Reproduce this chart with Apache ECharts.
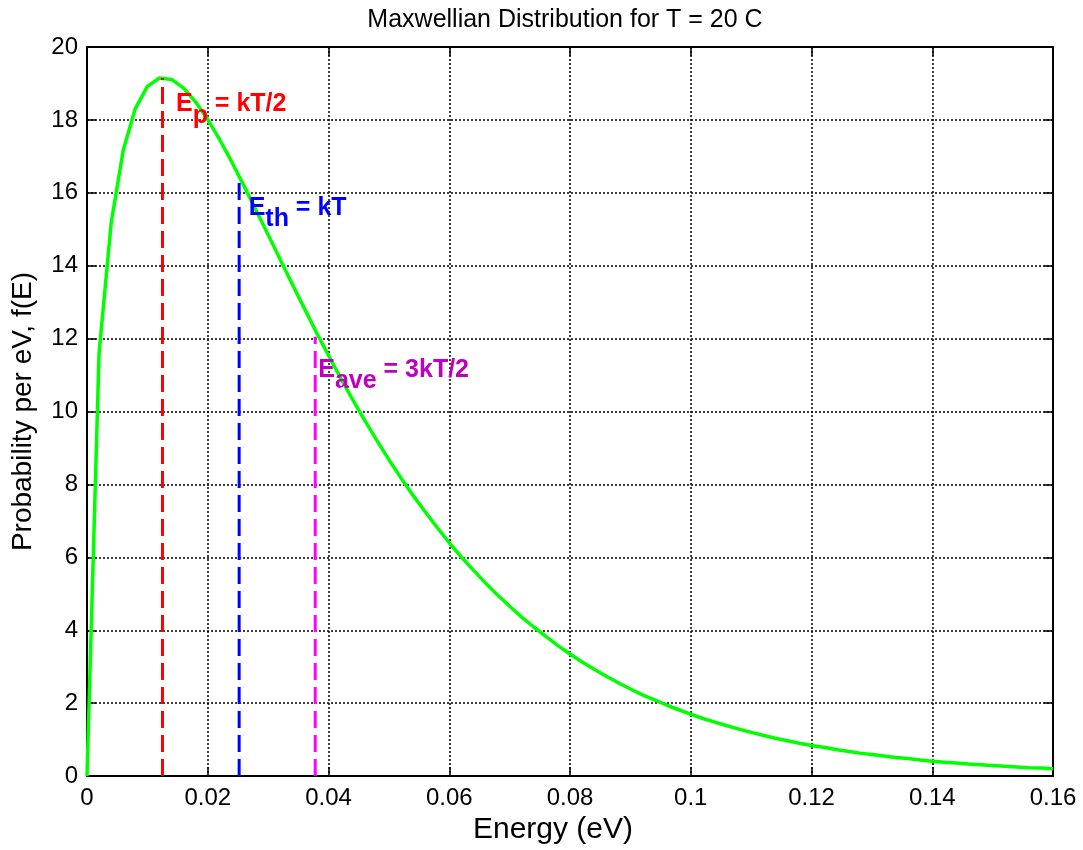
<!DOCTYPE html>
<html>
<head>
<meta charset="utf-8">
<script src="https://cdn.jsdelivr.net/npm/echarts@6/dist/echarts.min.js"></script>
<style>
html,body{margin:0;padding:0;background:#fff;}
#chart{width:1083px;height:850px;}
</style>
</head>
<body>
<div id="chart"></div>
<script>
// Energy samples (eV)
const energy = [0,0.002,0.004,0.006,0.008,0.010,0.012,0.014,0.016,0.018,
  0.020,0.022,0.024,0.026,0.028,0.030,0.032,0.034,0.036,0.038,
  0.040,0.042,0.044,0.046,0.048,0.050,0.052,0.054,0.056,0.058,
  0.060,0.062,0.064,0.066,0.068,0.070,0.072,0.074,0.076,0.078,
  0.080,0.082,0.084,0.086,0.088,0.090,0.092,0.094,0.096,0.098,
  0.100,0.102,0.104,0.106,0.108,0.110,0.112,0.114,0.116,0.118,
  0.120,0.122,0.124,0.126,0.128,0.130,0.132,0.134,0.136,0.138,
  0.140,0.142,0.144,0.146,0.148,0.150,0.152,0.154,0.156,0.158,0.160];
// Probability per eV, f(E)
const probability = [0,11.61,15.17,17.17,18.31,18.92,19.15,19.11,18.87,18.49,
  18.01,17.45,16.84,16.19,15.52,14.85,14.17,13.49,12.83,12.17,
  11.54,10.92,10.33,9.76,9.21,8.68,8.18,7.70,7.25,6.82,
  6.40,6.01,5.65,5.30,4.97,4.66,4.36,4.09,3.83,3.58,
  3.35,3.13,2.93,2.74,2.56,2.39,2.23,2.09,1.95,1.82,
  1.70,1.58,1.48,1.38,1.29,1.20,1.12,1.04,0.97,0.90,
  0.84,0.79,0.73,0.68,0.63,0.59,0.55,0.51,0.48,0.44,
  0.41,0.38,0.36,0.33,0.31,0.29,0.27,0.25,0.23,0.22,0.20];
// Marker lines: Ep = kT/2, Eth = kT, Eave = 3kT/2
const markerEnergy = [0.0125, 0.0252, 0.0378];
const markerTop = [19.15, 16.45, 12.05];
const markerSub = ['p', 'th', 'ave'];
const markerRest = [' = kT/2', ' = kT', ' = 3kT/2'];
// Tick labels
const xTickLabels = ['0','0.02','0.04','0.06','0.08','0.1','0.12','0.14','0.16'];
const yTickLabels = ['0','2','4','6','8','10','12','14','16','18','20'];

const FONT = "'Liberation Sans', Arial, Helvetica, sans-serif";
const lineColors = ['#ff0000', '#0000ff', '#ff00ff'];
const textColors = ['#ff0000', '#0000ff', '#bf00bf'];
const labelOffsets = [[13, 38], [9, 43], [2.5, 44.5]];

const chart = echarts.init(document.getElementById('chart'));

const gridLine = {show: true, lineStyle: {color: '#000', type: [2, 2], width: 1.5}};
const axisLine = {show: true, onZero: false, lineStyle: {color: '#000', width: 2}};
const axisTick = {show: true, inside: true, length: 9, lineStyle: {color: '#000', width: 1.5}};

const series = [{
  type: 'line',
  data: energy.map((e, i) => [e, probability[i]]),
  showSymbol: false,
  symbol: 'none',
  lineStyle: {color: '#00ff00', width: 3.5},
  z: 3
}];

markerEnergy.forEach((e, i) => {
  series.push({
    type: 'line',
    data: [[e, 0], [e, markerTop[i]]],
    showSymbol: false,
    symbol: 'none',
    lineStyle: {color: lineColors[i], width: 3, type: [17, 7]},
    z: 4
  });
  series.push({
    type: 'scatter',
    data: [[e, markerTop[i]]],
    symbolSize: 1,
    itemStyle: {color: 'rgba(0,0,0,0)', opacity: 1},
    z: 5,
    label: {
      show: true,
      position: 'right',
      distance: 0,
      opacity: 1,
      offset: labelOffsets[i],
      formatter: '{a|E}{b|' + markerSub[i] + '}{a|' + markerRest[i] + '}',
      rich: {
        a: {fontFamily: FONT, fontSize: 25, fontWeight: 'bold', color: textColors[i], lineHeight: 24, verticalAlign: 'top'},
        b: {fontFamily: FONT, fontSize: 25, fontWeight: 'bold', color: textColors[i], lineHeight: 48}
      }
    }
  });
});

chart.setOption({
  animation: false,
  backgroundColor: '#fff',
  title: {
    text: 'Maxwellian Distribution for T = 20 C',
    left: 565,
    textAlign: 'center',
    top: 8,
    padding: 0,
    textStyle: {fontFamily: FONT, fontSize: 25, fontWeight: 'normal', color: '#000'}
  },
  grid: {left: 87, right: 30, top: 47, bottom: 70, containLabel: false},
  xAxis: [{
    type: 'value', min: 0, max: 0.16, interval: 0.02, position: 'bottom',
    name: 'Energy (eV)', nameLocation: 'middle', nameGap: 36,
    nameTextStyle: {fontFamily: FONT, fontSize: 30, color: '#000', padding: [0, 34, 0, 0]},
    axisLine: axisLine, axisTick: axisTick, splitLine: gridLine,
    axisLabel: {fontFamily: FONT, fontSize: 24, color: '#000', margin: 10,
      formatter: v => xTickLabels[Math.round(v / 0.02)]}
  }, {
    type: 'value', min: 0, max: 0.16, interval: 0.02, position: 'top',
    axisLine: axisLine, axisTick: axisTick, splitLine: {show: false}, axisLabel: {show: false}
  }],
  yAxis: [{
    type: 'value', min: 0, max: 20, interval: 2, position: 'left',
    name: 'Probability per eV, f(E)', nameLocation: 'middle', nameGap: 50,
    nameTextStyle: {fontFamily: FONT, fontSize: 28, color: '#000'},
    axisLine: axisLine, axisTick: axisTick, splitLine: gridLine,
    axisLabel: {fontFamily: FONT, fontSize: 24, color: '#000', margin: 9,
      formatter: v => yTickLabels[Math.round(v / 2)]}
  }, {
    type: 'value', min: 0, max: 20, interval: 2, position: 'right',
    axisLine: axisLine, axisTick: axisTick, splitLine: {show: false}, axisLabel: {show: false}
  }],
  series: series
});
</script>
</body>
</html>
